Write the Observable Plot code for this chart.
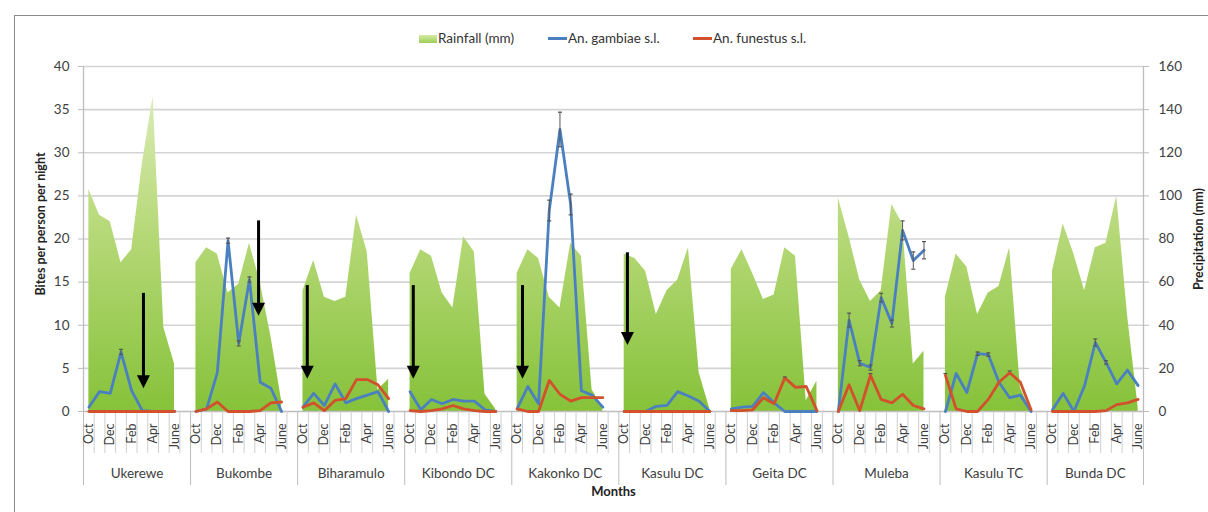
<!DOCTYPE html>
<html>
<head>
<meta charset="utf-8">
<script src="https://cdn.jsdelivr.net/npm/d3@7"></script>
<script src="https://cdn.jsdelivr.net/npm/@observablehq/plot@0.6"></script>
<style>
  body { margin: 0; background: #fff; font-family: Lato, "Open Sans", sans-serif; }
  #wrap { position: relative; width: 1208px; height: 512px; overflow: hidden; background: #fff; }
  #frame { position: absolute; left: 14px; top: 15px; width: 1210px; height: 510px; border: 1px solid #8a8a8a; box-sizing: border-box; }
  #chart { position: absolute; left: 0; top: 0; }
  #chart svg { display: block; }
  .sw { position: absolute; }
  .lt { position: absolute; top: 30px; font-size: 13.5px; line-height: 16px; color: #333; white-space: nowrap; }
</style>
</head>
<body>
<div id="wrap">
  <div id="frame"></div>
  <div id="chart"></div>
  <div id="legend"></div>
</div>
<script>
// ---------- data ----------
const districts = ["Ukerewe", "Bukombe", "Biharamulo", "Kibondo DC", "Kakonko DC",
                   "Kasulu DC", "Geita DC", "Muleba", "Kasulu TC", "Bunda DC"];
const months = ["Oct", "Nov", "Dec", "Jan", "Feb", "Mar", "Apr", "May", "June"];
const monthLabels = ["Oct", "Dec", "Feb", "Apr", "June"];
const series = ["Rainfall (mm)", "An. gambiae s.l.", "An. funestus s.l."];

// Rainfall (mm), Oct..June per district
const rainfall = [
  [103, 91, 88, 69, 75, 115, 146, 39, 22],
  [69, 76, 73, 55, 59, 78, 60, 35, 5],
  [56, 70, 53, 51, 53, 91, 74, 10, 15],
  [64, 75, 72, 55, 48, 81, 74, 8, 1],
  [64, 75, 71, 53, 48, 78, 72, 10, 2],
  [73, 71, 65, 45, 56, 61, 76, 18, 1],
  [66, 75, 64, 52, 54, 76, 72, 5, 14],
  [99, 81, 61, 51, 56, 96, 87, 22, 28],
  [53, 73, 67, 45, 55, 58, 76, 11, 0],
  [65, 87, 73, 56, 76, 78, 100, 45, 2]
];
// An. gambiae s.l. bites per person per night
const gambiae = [
  [0.5, 2.3, 2.1, 6.9, 2.4, 0.1, 0, 0, 0],
  [0, 0.3, 4.5, 19.8, 7.9, 15.3, 3.4, 2.7, 0],
  [0.5, 2.1, 0.7, 3.2, 1.0, 1.5, 1.9, 2.3, 0],
  [2.3, 0.2, 1.4, 0.9, 1.4, 1.2, 1.2, 0.2, 0],
  [0.3, 2.9, 0.9, 23.3, 32.7, 24.0, 2.4, 1.9, 0.5],
  [0, 0, 0, 0.6, 0.7, 2.3, 1.8, 1.2, 0],
  [0.3, 0.5, 0.6, 2.2, 1.0, 0, 0, 0, 0],
  [0, 10.6, 5.6, 5.1, 13.2, 10.2, 21.0, 17.5, 18.7],
  [0, 4.4, 2.2, 6.7, 6.6, 3.4, 1.6, 1.9, 0],
  [0.2, 2.1, 0, 3.0, 8.0, 5.7, 3.2, 4.8, 3.0]
];
const gambiaeErr = [
  [0, 0, 0, 0.3, 0, 0, 0, 0, 0],
  [0, 0, 0, 0.3, 0.3, 0.3, 0, 0, 0],
  [0, 0, 0, 0, 0, 0, 0, 0, 0],
  [0, 0, 0, 0, 0, 0, 0, 0, 0],
  [0, 0, 0, 1.2, 2.0, 1.2, 0, 0, 0],
  [0, 0, 0, 0, 0, 0, 0, 0, 0],
  [0, 0, 0, 0, 0, 0, 0, 0, 0],
  [0, 0.8, 0.3, 0.3, 0.5, 0.4, 1.1, 1.0, 1.0],
  [0, 0, 0, 0.2, 0.2, 0, 0, 0, 0],
  [0, 0, 0, 0, 0.4, 0.2, 0, 0, 0]
];
// An. funestus s.l.
const funestus = [
  [0, 0, 0, 0, 0, 0, 0, 0, 0],
  [0, 0.3, 1.1, 0, 0, 0, 0.1, 1.0, 1.1],
  [0.5, 1.0, 0.1, 1.3, 1.5, 3.7, 3.7, 3.1, 1.5],
  [0.1, 0, 0.1, 0.3, 0.7, 0.3, 0.1, 0, 0],
  [0.3, 0, 0, 3.6, 2.0, 1.2, 1.6, 1.6, 1.6],
  [0, 0, 0, 0, 0, 0, 0, 0, 0],
  [0.1, 0.1, 0.2, 1.6, 0.9, 3.9, 2.8, 2.9, 0.1],
  [0, 3.1, 0.1, 4.2, 1.4, 1.0, 2.0, 0.7, 0.3],
  [4.2, 0.3, 0, 0, 1.4, 3.4, 4.5, 3.4, 0.2],
  [0, 0, 0, 0, 0, 0.1, 0.8, 1.0, 1.4]
];
const funestusErr = [
  [0, 0, 0, 0, 0, 0, 0, 0, 0],
  [0, 0, 0, 0, 0, 0, 0, 0, 0],
  [0, 0, 0, 0, 0, 0, 0, 0, 0],
  [0, 0, 0, 0, 0, 0, 0, 0, 0],
  [0, 0, 0, 0, 0, 0, 0, 0, 0],
  [0, 0, 0, 0, 0, 0, 0, 0, 0],
  [0, 0, 0, 0, 0, 0.1, 0, 0, 0],
  [0, 0, 0, 0.2, 0, 0, 0, 0, 0],
  [0.2, 0, 0, 0, 0, 0, 0.2, 0, 0],
  [0, 0, 0, 0, 0, 0, 0, 0, 0]
];
// intervention arrows: district, month offset, top and tip (bites scale)
const arrowDistricts = ["Ukerewe", "Bukombe", "Biharamulo", "Kibondo DC", "Kakonko DC", "Kasulu DC"];
const arrowMonth = [5.1, 5.85, 0.4, 0.3, 0.5, 0.3];
const arrowTop = [13.7, 22.1, 14.6, 14.6, 14.6, 18.4];
const arrowTip = [2.7, 11.1, 3.8, 3.8, 3.8, 7.7];

const biteTicks = [0, 5, 10, 15, 20, 25, 30, 35, 40];
const rainPerBite = 4; // right axis 0..160 mm against left 0..40

// ---------- build table ----------
const slot = 10; // 9 months + one empty category between districts
const rows = [];
districts.forEach((d, g) => months.forEach((m, j) => rows.push({
  district: d, g, j, i: g * slot + j, month: m,
  rain: rainfall[g][j], gam: gambiae[g][j], fun: funestus[g][j],
  ge: gambiaeErr[g][j], fe: funestusErr[g][j]
})));
const nCat = (districts.length - 1) * slot + months.length;
const xDomain = [-0.5, nCat - 0.5];
const yDomain = [0, 40];
const groupStart = districts.map((d, g) => g * slot - 0.5);
const groupEnd = districts.map((d, g) => Math.min(g * slot + slot - 0.5, xDomain[1]));
const groupBounds = [...groupStart, xDomain[1]];
const groupCenters = districts.map((d, g) => (groupStart[g] + groupEnd[g]) / 2);
const minorBounds = d3.range(1, nCat).map(k => k - 0.5).filter(b => !groupBounds.includes(b));
const labelTicks = rows.filter(r => monthLabels.includes(r.month)).map(r => r.i);
const arrows = arrowDistricts.map((d, k) => ({
  x: districts.indexOf(d) * slot + arrowMonth[k], top: arrowTop[k], tip: arrowTip[k]
}));

const blue = "#4a80c0", red = "#d2502c", grey = "#404040";

const capSymbol = { draw(ctx, size) { const r = Math.sqrt(size / Math.PI); ctx.moveTo(-r, 0); ctx.lineTo(r, 0); } };
const headSymbol = { draw(ctx) { ctx.moveTo(0, 0); ctx.lineTo(-6.5, -13); ctx.lineTo(6.5, -13); ctx.closePath(); } };

const gradient = (index, scales, values, dim) => {
  const g = d3.create("svg:g");
  const lg = g.append("defs").append("linearGradient")
    .attr("id", "rainGrad").attr("gradientUnits", "userSpaceOnUse")
    .attr("x1", 0).attr("x2", 0)
    .attr("y1", dim.marginTop).attr("y2", dim.height - dim.marginBottom);
  lg.append("stop").attr("offset", 0).attr("stop-color", "#e2efc3");
  lg.append("stop").attr("offset", 0.45).attr("stop-color", "#b9da7c");
  lg.append("stop").attr("offset", 1).attr("stop-color", "#86c23a");
  return g.node();
};

const chart = Plot.plot({
  width: 1208, height: 512,
  marginLeft: 83, marginRight: 65, marginTop: 66, marginBottom: 101,
  x: { type: "linear", domain: xDomain, axis: null, label: null },
  y: { domain: yDomain, axis: null, label: null },
  style: { fontFamily: "Lato, 'Open Sans', sans-serif", fontSize: "13px", color: grey, background: "transparent", overflow: "visible" },
  marks: [
    gradient,
    Plot.gridY(biteTicks.slice(1), { stroke: "#d4d4d4", strokeOpacity: 1, strokeWidth: 1.6 }),
    Plot.areaY(rows, { x: "i", y: d => d.rain / rainPerBite, z: "district", fill: "url(#rainGrad)", curve: "linear" }),
    Plot.ruleY([0], { stroke: "#bdbdbd", strokeWidth: 1.3 }),
    Plot.ruleX(xDomain, { y1: yDomain[0], y2: yDomain[1], stroke: "#bdbdbd", strokeWidth: 1.3 }),
    // category axis
    Plot.axisX(minorBounds, { tickSize: 42, tickFormat: () => "", stroke: "#cfcfcf", label: null }),
    Plot.axisX(groupBounds, { tickSize: 74, tickFormat: () => "", stroke: "#bdbdbd", label: null }),
    Plot.axisX(labelTicks, { tickSize: 0, tickPadding: 12, tickRotate: -90, tickFormat: i => months[i % slot], fontSize: 12.5, label: null }),
    Plot.axisX(groupCenters, { tickSize: 0, tickPadding: 57, tickFormat: c => districts[groupCenters.indexOf(c)], fontSize: 13.5, label: null }),
    Plot.text(["Months"], { frameAnchor: "bottom", dy: 84, fontWeight: "bold", fontSize: 13, fill: "#222" }),
    // left axis
    Plot.axisY(biteTicks, { anchor: "left", tickSize: 5, tickPadding: 9, stroke: "#bdbdbd", fontSize: 13.5, label: null }),
    Plot.text(["Bites per person per night"], { frameAnchor: "left", textAnchor: "middle", dx: -43, dy: -15, rotate: -90, fontWeight: "bold", fontSize: 12.5, fill: "#222" }),
    // right axis (precipitation)
    Plot.axisY(biteTicks, { anchor: "right", tickSize: 5, tickPadding: 10, stroke: "#bdbdbd", tickFormat: d => d * rainPerBite, fontSize: 13.5, label: null }),
    Plot.text(["Precipitation (mm)"], { frameAnchor: "right", textAnchor: "middle", dx: 55, rotate: -90, fontWeight: "bold", fontSize: 12.5, fill: "#222" }),
    // mosquito series
    Plot.line(rows, { x: "i", y: "gam", z: "district", stroke: blue, strokeWidth: 2.8 }),
    Plot.ruleX(rows.filter(d => d.ge > 0), { x: "i", y1: d => d.gam - d.ge, y2: d => d.gam + d.ge, stroke: "#555", strokeWidth: 1 }),
    Plot.dot(rows.filter(d => d.ge > 0), { x: "i", y: d => d.gam + d.ge, symbol: capSymbol, r: 2, stroke: "#555", strokeWidth: 1.2, fill: "none" }),
    Plot.dot(rows.filter(d => d.ge > 0), { x: "i", y: d => d.gam - d.ge, symbol: capSymbol, r: 2, stroke: "#555", strokeWidth: 1.2, fill: "none" }),
    Plot.line(rows, { x: "i", y: "fun", z: "district", stroke: red, strokeWidth: 2.8 }),
    Plot.dot(rows.filter(d => d.fe > 0), { x: "i", y: d => d.fun + d.fe, symbol: capSymbol, r: 2, stroke: "#555", strokeWidth: 1.2, fill: "none" }),
    // arrows
    Plot.ruleX(arrows, { x: "x", y1: "top", y2: d => d.tip + 1, stroke: "#000", strokeWidth: 3 }),
    Plot.dot(arrows, { x: "x", y: "tip", symbol: headSymbol, r: 4, fill: "#000", stroke: "none" })
  ]
});
document.getElementById("chart").appendChild(chart);

// legend
const legend = document.getElementById("legend");
const swatches = [
  { left: 419, top: 35, w: 18, h: 8, bg: "linear-gradient(#d6eaa6, #9ccd55)" },
  { left: 548, top: 37, w: 19, h: 3, bg: blue },
  { left: 693, top: 37, w: 19, h: 3, bg: red }
];
const textLeft = [438, 568, 713];
series.forEach((s, k) => {
  const sw = document.createElement("div");
  sw.className = "sw";
  Object.assign(sw.style, { left: swatches[k].left + "px", top: swatches[k].top + "px", width: swatches[k].w + "px", height: swatches[k].h + "px", background: swatches[k].bg });
  legend.appendChild(sw);
  const t = document.createElement("div");
  t.className = "lt";
  t.style.left = textLeft[k] + "px";
  t.textContent = s;
  legend.appendChild(t);
});
</script>
</body>
</html>
